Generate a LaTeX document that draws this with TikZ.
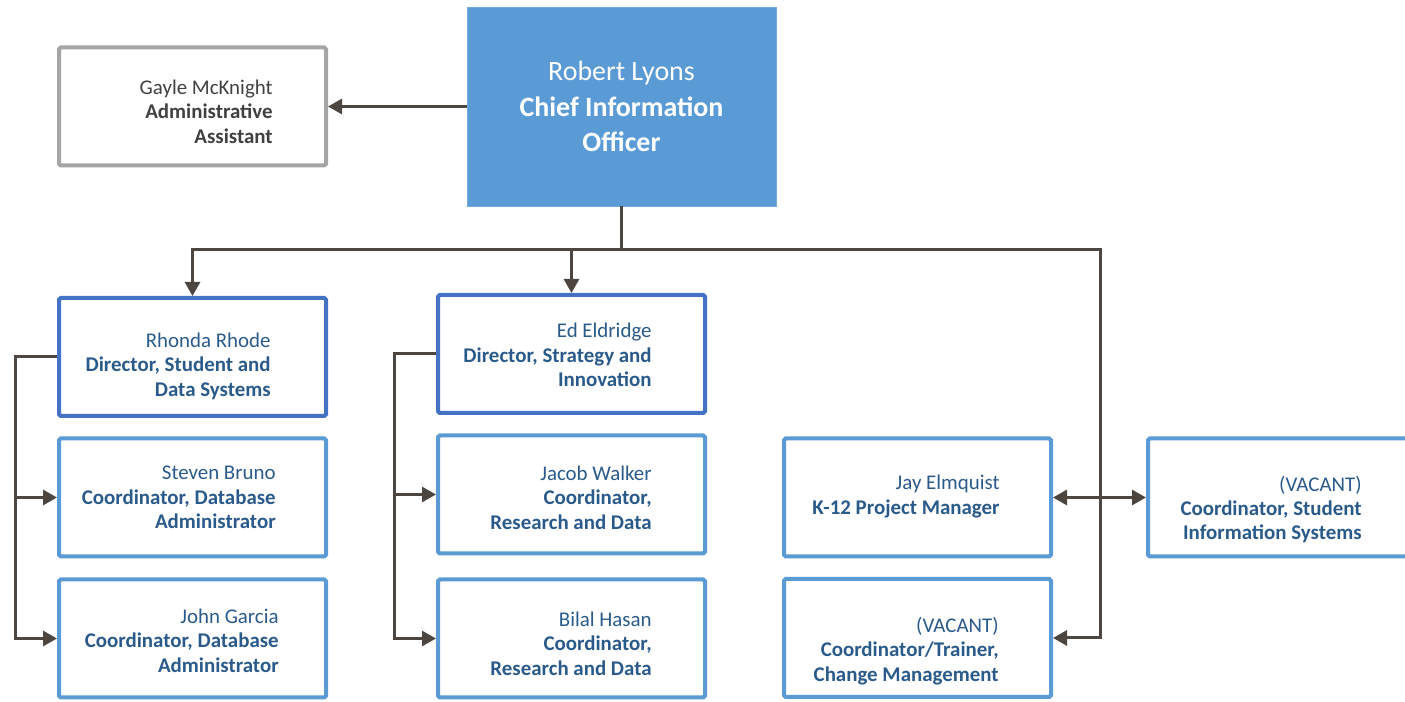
\documentclass[tikz,border=0pt]{standalone}
\usepackage{fontspec}
\setmainfont{Carlito}
\usepackage{tikz}
\usepackage{xcolor}
\usetikzlibrary{arrows.meta,positioning}

\definecolor{cioblue}{HTML}{5B9BD5}
\definecolor{dirblue}{HTML}{4472C4}
\definecolor{boxgray}{HTML}{A5A5A5}
\definecolor{titlecol}{HTML}{2A5A8A}
\definecolor{graytext}{HTML}{404040}
\definecolor{linecol}{HTML}{4D4540}

\newcommand{\nm}[1]{{\mdseries #1}}

\begin{document}
\begin{tikzpicture}[
    >={Triangle[length=0.28cm,width=0.3cm]},
    box/.style={draw=cioblue, line width=0.08cm, rounded corners=1pt, minimum width=5.34cm, minimum height=2.36cm},
    dirbox/.style={box, draw=dirblue},
    graybox/.style={box, draw=boxgray},
    txt/.style={align=right, inner sep=0pt, text=titlecol, font=\fontsize{11.9}{13.9}\selectfont\bfseries},
    link/.style={draw=linecol, line width=0.06cm}
]
    \useasboundingbox (0,0) rectangle (28.1,-14.04);

    % Top level
    \node[fill=cioblue, draw=cioblue!85!white, minimum width=6.18cm, minimum height=3.98cm, align=center, text=white, font=\fontsize{15.9}{20.4}\selectfont\bfseries] (cio) at (12.43,-2.13) {\nm{Robert Lyons}\\Chief Information\\Officer};
    \node[graybox] (gayle) at (3.85,-2.13) {};
    \node[txt, text=graytext, left=1.1cm of gayle.east, yshift=-0.1cm] (gayletxt) {\nm{Gayle McKnight}\\Administrative\\Assistant};

    % Student and data systems
    \node[dirbox] (rhonda) at (3.85,-7.14) {};
    \node[txt, left=1.14cm of rhonda.east, yshift=-0.18cm] (rhondatxt) {\nm{Rhonda Rhode}\\Director, Student and\\Data Systems};
    \node[box] (steven) at (3.85,-9.95) {};
    \node[txt, left=1.04cm of steven.east, yshift=0cm] (steventxt) {\nm{Steven Bruno}\\Coordinator, Database\\Administrator};
    \node[box] (john) at (3.85,-12.77) {};
    \node[txt, left=0.98cm of john.east, yshift=-0.04cm] (johntxt) {\nm{John Garcia}\\Coordinator, Database\\Administrator};

    % Strategy and innovation
    \node[dirbox] (ed) at (11.43,-7.08) {};
    \node[txt, left=1.1cm of ed.east, yshift=-0.02cm] (edtxt) {\nm{Ed Eldridge}\\Director, Strategy and\\Innovation};
    \node[box] (jacob) at (11.43,-9.89) {};
    \node[txt, left=1.1cm of jacob.east, yshift=-0.06cm] (jacobtxt) {\nm{Jacob Walker}\\Coordinator,\\Research and Data};
    \node[box] (bilal) at (11.43,-12.77) {};
    \node[txt, left=1.1cm of bilal.east, yshift=-0.1cm] (bilaltxt) {\nm{Bilal Hasan}\\Coordinator,\\Research and Data};

    % Project staff
    \node[box] (jay) at (18.35,-9.95) {};
    \node[txt, left=1.06cm of jay.east, yshift=0.02cm] (jaytxt) {\nm{Jay Elmquist}\\K-12 Project Manager};
    \node[box] (cis) at (25.63,-9.95) {};
    \node[txt, left=1.1cm of cis.east, yshift=-0.24cm] (cistxt) {\nm{(VACANT)}\\Coordinator, Student\\Information Systems};
    \node[box] (change) at (18.35,-12.76) {};
    \node[txt, left=1.08cm of change.east, yshift=-0.26cm] (changetxt) {\nm{(VACANT)}\\Coordinator/Trainer,\\Change Management};

    % Reporting lines
    \coordinate (bus) at (12.43,-5.0);
    \coordinate (busR) at (22.0,-5.0);
    \coordinate (busB) at (22.0,-12.76);
    \coordinate (rhL) at (0.3,-7.14);
    \coordinate (edL) at (7.88,-7.08);

    \draw[link,->] (cio) -- (gayle);
    \draw[link] (cio) -- (bus);
    \draw[link,->] (bus) -| (rhonda);
    \draw[link,->] (bus) -| (ed);
    \draw[link,->] (bus) -- (busR) -- (busB) -- (change);
    \draw[link,<->] (jay) -- (cis);

    \draw[link,->] (rhonda) -- (rhL) |- (steven);
    \draw[link,->] (rhL) |- (john);
    \draw[link,->] (ed) -- (edL) |- (jacob);
    \draw[link,->] (edL) |- (bilal);

\end{tikzpicture}
\end{document}
